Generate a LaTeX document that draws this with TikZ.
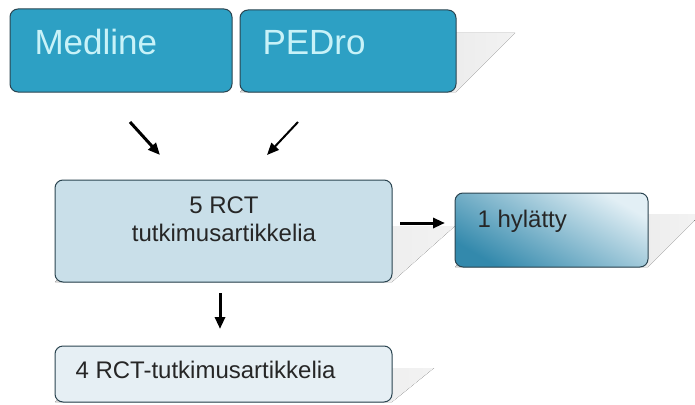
\documentclass[tikz,border=0pt]{standalone}
\usepackage{fontspec}
\setmainfont{Liberation Sans}
\usetikzlibrary{arrows.meta}

\definecolor{dbblue}{HTML}{2DA0C4}
\definecolor{dbtext}{HTML}{C8F2F8}
\definecolor{edgeclr}{HTML}{2A4450}
\definecolor{midfill}{HTML}{C9DFE9}
\definecolor{lowfill}{HTML}{E6EFF4}
\definecolor{rejdark}{HTML}{3389AC}
\definecolor{rejlight}{HTML}{E2EFF5}

\tikzset{
    box/.style={draw=edgeclr, line width=1pt, rounded corners=8pt, inner sep=0pt},
    boxshadow/.style={left color=gray!30, right color=gray!10, draw=none},
    arr/.style={-{Triangle[length=12pt,width=10pt]}, line width=3pt},
    txt/.style={font=\fontsize{24}{28}\selectfont, text=black!85},
}

\begin{document}
\begin{tikzpicture}[x=1pt,y=-1pt]
    \useasboundingbox (0,0) rectangle (695,404);

    % shadows
    \fill[boxshadow] (240,92) -- (456,92) -- (515,33) -- (299,33) -- cycle;
    \fill[boxshadow] (55,282) -- (392,282) -- (455,226) -- (118,226) -- cycle;
    \fill[boxshadow] (455,267) -- (648,267) -- (695,220) -- (695,214) -- (508,214) -- cycle;
    \fill[boxshadow] (55,402) -- (392,402) -- (434,368) -- (97,368) -- cycle;

    % databases
    \node[box, fill=dbblue, minimum width=222pt, minimum height=83pt] (medline) at (121,50.5) {};
    \node[anchor=base west, font=\fontsize{35}{38}\selectfont, text=dbtext] (medlinetxt) at (31,55) {Medline};
    \node[box, fill=dbblue, minimum width=216pt, minimum height=82pt] (pedro) at (348,51) {};
    \node[anchor=base west, font=\fontsize{35}{38}\selectfont, text=dbtext] (pedrotxt) at (259,55) {PEDro};

    % found articles
    \node[box, fill=midfill, minimum width=337pt, minimum height=102pt] (found) at (223.5,231) {};
    \node[txt, anchor=base, align=center] (foundtxt) at (224,241) {5 RCT\\tutkimusartikkelia};

    % rejected
    \node[box, top color=rejlight, bottom color=rejdark, shading angle=-30,
          minimum width=193pt, minimum height=74pt] (rejected) at (551.5,230) {};
    \node[txt, anchor=base west] (rejectedtxt) at (474,227) {1 hylätty};

    % included
    \node[box, fill=lowfill, minimum width=337pt, minimum height=56pt] (included) at (223.5,374) {};
    \node[txt, anchor=base west] (includedtxt) at (72,378) {4 RCT-tutkimusartikkelia};

    % arrows
    \coordinate (m1) at (130,122);
    \coordinate (m2) at (160,155);
    \coordinate (p1) at (298,122);
    \coordinate (p2) at (267,155);
    \coordinate (r1) at (400,223);
    \coordinate (r2) at (445,223);
    \coordinate (d1) at (220,293);
    \coordinate (d2) at (220,329);
    \draw[arr] (m1) -- (m2);
    \draw[arr, line width=2pt] (p1) -- (p2);
    \draw[arr] (r1) -- (r2);
    \draw[arr] (d1) -- (d2);
\end{tikzpicture}
\end{document}
